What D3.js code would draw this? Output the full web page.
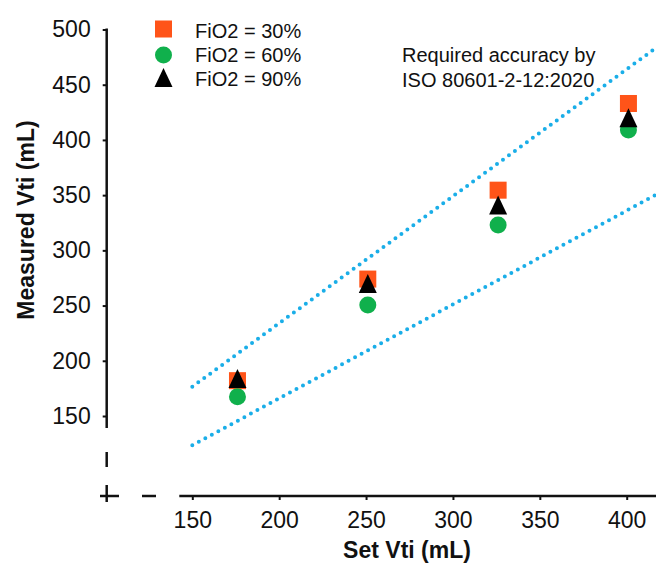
<!DOCTYPE html>
<html>
<head>
<meta charset="utf-8">
<script src="https://cdn.jsdelivr.net/npm/d3@7"></script>
<style>
  body { margin: 0; background: #fff; }
  text { font-family: "Liberation Sans", Arial, Helvetica, sans-serif; fill: #111; }
</style>
</head>
<body>
<div class="chart"></div>
<script>
var svgWidth = 656;
var svgHeight = 571;

// data
var setVti = [176, 251, 326, 401];
var fio2_30 = [182, 274, 354.5, 433];
var fio2_60 = [167.5, 250.5, 323, 409];
var fio2_90 = [184, 270, 341, 420];
var seriesNames = ["FiO2 = 30%", "FiO2 = 60%", "FiO2 = 90%"];
var xTicks = [150, 200, 250, 300, 350, 400];
var yTicks = [150, 200, 250, 300, 350, 400, 450, 500];
// ISO limits: +/- (4 mL + 15% of set)
var limitX = [150, 430];

var svg = d3.select(".chart")
  .append("svg")
  .attr("width", svgWidth)
  .attr("height", svgHeight);

var x = d3.scaleLinear().domain([150, 400]).range([192.3, 626.7]);
var y = d3.scaleLinear().domain([150, 500]).range([416, 29.5]);

var axisX = 106.7;   // where the y axis sits
var axisY = 496;     // where the x axis sits

// accuracy limits
var upper = limitX.map(function(v) { return [x(v), y(v * 1.15 + 4)]; });
var lower = limitX.map(function(v) { return [x(v), y(v * 0.85 - 4)]; });
[upper, lower].forEach(function(pts) {
  svg.append("path")
    .attr("d", d3.line()(pts))
    .attr("fill", "none")
    .attr("stroke", "#1aaee8")
    .attr("stroke-width", 4)
    .attr("stroke-linecap", "round")
    .attr("stroke-dasharray", "0 7.4");
});

// y axis
var leftAxis = d3.axisLeft(y).tickValues(yTicks).tickSize(4).tickPadding(12);
var gy = svg.append("g")
  .attr("transform", "translate(" + axisX + ",0)")
  .call(leftAxis);
gy.select(".domain").remove();
gy.selectAll("line").attr("stroke", "#111").attr("stroke-width", 2);
gy.selectAll("text").style("font-size", "23px").attr("fill", "#111");

// x axis
var bottomAxis = d3.axisBottom(x).tickValues(xTicks).tickSize(4).tickPadding(12);
var gx = svg.append("g")
  .attr("transform", "translate(0," + axisY + ")")
  .call(bottomAxis);
gx.select(".domain").remove();
gx.selectAll("line").attr("stroke", "#111").attr("stroke-width", 2);
gx.selectAll("text").style("font-size", "23px").attr("fill", "#111");

// axis lines with the break
var brk = svg.append("g").attr("stroke", "#111").attr("stroke-width", 2.5);
brk.append("line").attr("x1", axisX).attr("x2", axisX).attr("y1", y(500) - 1).attr("y2", y(150) + 12);
brk.append("line").attr("x1", axisX).attr("x2", axisX).attr("y1", 452).attr("y2", 467);
brk.append("line").attr("x1", axisX).attr("x2", axisX).attr("y1", 485).attr("y2", 502);
brk.append("line").attr("x1", 100).attr("x2", 119).attr("y1", axisY).attr("y2", axisY);
brk.append("line").attr("x1", 142).attr("x2", 156).attr("y1", axisY).attr("y2", axisY);
brk.append("line").attr("x1", x(150) - 13).attr("x2", svgWidth + 5).attr("y1", axisY).attr("y2", axisY);

// markers
var squareColor = "#ff5419";
var circleColor = "#10b04c";
var triColor = "#000";
var tri = "M0,-9.5L9,9.5L-9,9.5Z";

svg.selectAll(".sq")
  .data(setVti)
  .enter().append("rect")
  .attr("x", function(d, i) { return x(d) - 8.5; })
  .attr("y", function(d, i) { return y(fio2_30[i]) - 8.5; })
  .attr("width", 17)
  .attr("height", 17)
  .attr("fill", squareColor);

svg.selectAll(".ci")
  .data(setVti)
  .enter().append("circle")
  .attr("cx", function(d) { return x(d); })
  .attr("cy", function(d, i) { return y(fio2_60[i]); })
  .attr("r", 8.5)
  .attr("fill", circleColor);

svg.selectAll(".tr")
  .data(setVti)
  .enter().append("path")
  .attr("d", tri)
  .attr("transform", function(d, i) { return "translate(" + x(d) + "," + y(fio2_90[i]) + ")"; })
  .attr("fill", triColor);

// legend
var legend = svg.append("g");
legend.append("rect").attr("x", 155).attr("y", 20.5).attr("width", 17).attr("height", 17).attr("fill", squareColor);
legend.append("circle").attr("cx", 163.5).attr("cy", 55).attr("r", 8.5).attr("fill", circleColor);
legend.append("path").attr("d", tri).attr("transform", "translate(163.5,77.5)").attr("fill", triColor);
seriesNames.forEach(function(name, i) {
  legend.append("text")
    .attr("x", 195)
    .attr("y", 37.5 + i * 24.4)
    .style("font-size", "20px")
    .text(name);
});

// annotation
svg.append("text").attr("x", 402).attr("y", 62).style("font-size", "20px").text("Required accuracy by");
svg.append("text").attr("x", 402).attr("y", 86.5).style("font-size", "20px").text("ISO 80601-2-12:2020");

// axis titles
svg.append("text")
  .attr("transform", "translate(407,558)")
  .attr("text-anchor", "middle")
  .style("font-size", "23px")
  .style("font-weight", "bold")
  .text("Set Vti (mL)");

svg.append("text")
  .attr("transform", "translate(34,220) rotate(-90)")
  .attr("text-anchor", "middle")
  .style("font-size", "23px")
  .style("font-weight", "bold")
  .text("Measured Vti (mL)");
</script>
</body>
</html>
